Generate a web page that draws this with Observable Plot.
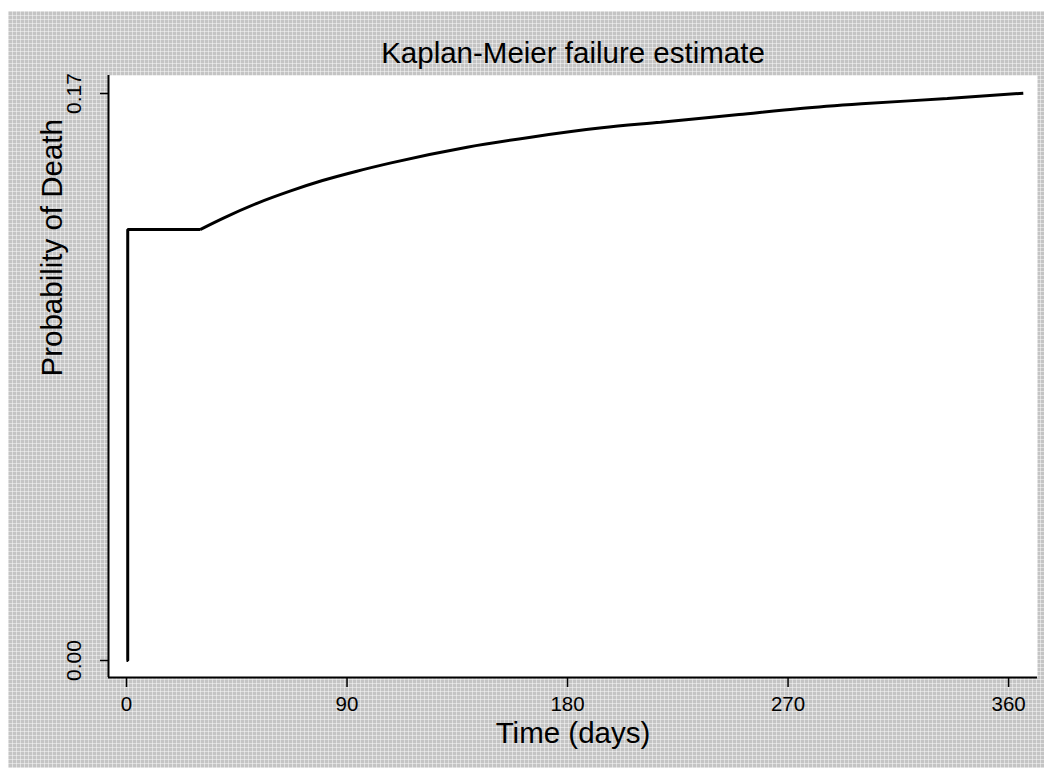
<!DOCTYPE html>
<html>
<head>
<meta charset="utf-8">
<script src="https://cdn.jsdelivr.net/npm/d3@7"></script>
<script src="https://cdn.jsdelivr.net/npm/@observablehq/plot@0.6"></script>
<style>
  html, body { margin: 0; padding: 0; background: white; width: 1044px; height: 768px; overflow: hidden; }
  #bg {
    position: absolute; left: 8px; top: 11px; width: 1036px; height: 757px;
    background-color: #c4c4c4;
    background-image:
      repeating-linear-gradient(90deg, rgba(255,255,255,0.45) 0px, rgba(255,255,255,0.45) 1px, transparent 1px, transparent 4px),
      repeating-linear-gradient(0deg, rgba(255,255,255,0.45) 0px, rgba(255,255,255,0.45) 1px, transparent 1px, transparent 4px);
  }
  #chart { position: absolute; left: 0; top: 0; }
</style>
</head>
<body>
<div id="bg"></div>
<div id="chart"></div>
<script>
// Data (Kaplan-Meier failure estimate)
const days    = [0, 0.5, 0.5, 30, 40, 53, 67, 80, 94, 108, 139, 165, 194, 218, 250, 275, 300, 335, 366];
const failure = [0, 0, 0.1292, 0.1292, 0.1328, 0.1370, 0.1408, 0.1439, 0.1467, 0.1492, 0.1539, 0.1569, 0.1597, 0.1614, 0.1637, 0.1655, 0.1669, 0.1685, 0.1701];
const xTicks = [0, 90, 180, 270, 360];
const yTicks = [0, 0.17];
const titleText = "Kaplan-Meier failure estimate";
const xLabel = "Time (days)";
const yLabel = "Probability of Death";

const data = days.map((d, i) => ({day: d, p: failure[i]}));
const stepPart = data.slice(0, 4);    // initial jump and flat segment
const smoothPart = data.slice(3);     // gradually rising part
const font = "'Liberation Sans', Arial, sans-serif";

const xMin = -7.35, xMax = 371.8, yMin = -0.0051, yMax = 0.1754;

const chart = Plot.plot({
  width: 1044,
  height: 768,
  marginLeft: 108,
  marginRight: 7,
  marginTop: 75,
  marginBottom: 91,
  style: {background: "transparent", fontFamily: font, color: "#000"},
  x: {domain: [xMin, xMax]},
  y: {domain: [yMin, yMax]},
  marks: [
    Plot.frame({fill: "white", stroke: null}),
    Plot.axisX({ticks: xTicks, tickSize: 10, tickPadding: 9, fontSize: 20.5, label: null, stroke: "#000", strokeWidth: 1.5}),
    Plot.axisY({ticks: yTicks, tickSize: 8, tickPadding: 20, tickRotate: -90, tickFormat: d3.format(".2f"), fontSize: 21, label: null, stroke: "#000", strokeWidth: 1.5}),
    Plot.ruleX([xMin], {stroke: "#000", strokeWidth: 2}),
    Plot.ruleY([yMin], {stroke: "#000", strokeWidth: 2}),
    Plot.line(stepPart, {x: "day", y: "p", stroke: "#000", strokeWidth: 3, strokeLinejoin: "miter", strokeLinecap: "butt"}),
    Plot.line(smoothPart, {x: "day", y: "p", stroke: "#000", strokeWidth: 3, curve: "monotone-x", strokeLinejoin: "miter", strokeLinecap: "butt"}),
    Plot.text([titleText], {frameAnchor: "top", dy: -22, fontSize: 29.5, fill: "#000", lineAnchor: "middle", text: d => d}),
    Plot.text([xLabel], {frameAnchor: "bottom", dy: 56, fontSize: 29.5, fill: "#000", lineAnchor: "middle", text: d => d}),
    Plot.text([yLabel], {frameAnchor: "left", dx: -56, rotate: -90, fontSize: 29.5, fill: "#000", lineAnchor: "middle", text: d => d})
  ]
});
document.getElementById("chart").appendChild(chart);
</script>
</body>
</html>
